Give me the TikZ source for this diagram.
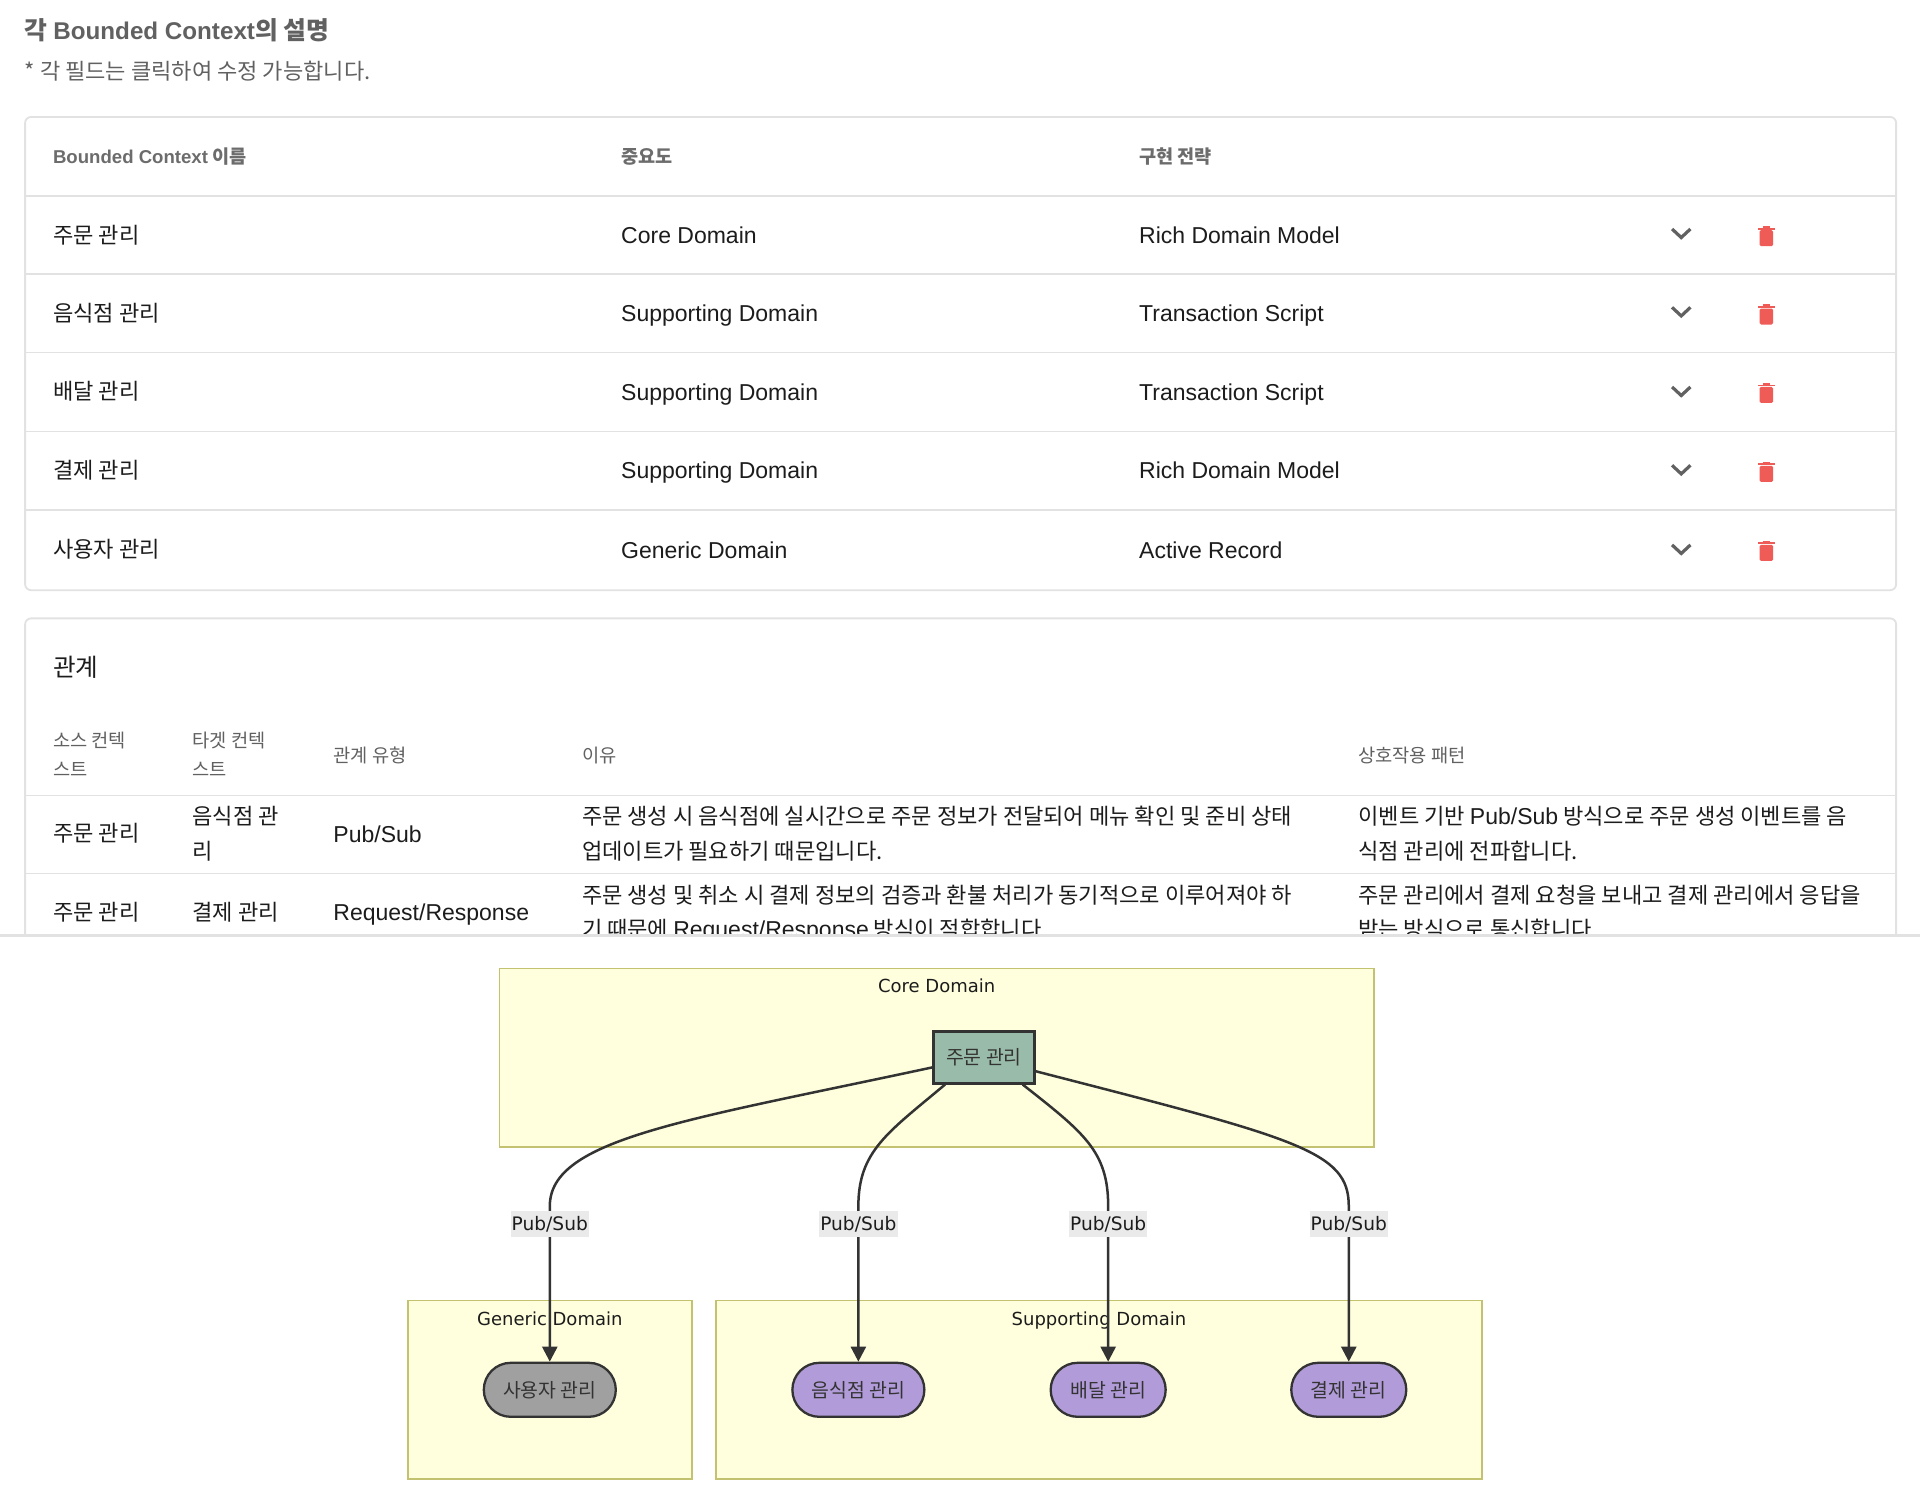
\documentclass[tikz,border=0pt]{standalone}
\usepackage{fontspec}
\setmainfont{Liberation Sans}
\newfontfamily\kr{Noto Sans CJK KR}
\newfontfamily\dia{DejaVu Sans}
\usetikzlibrary{arrows.meta,shapes.misc}
\definecolor{cardline}{HTML}{E2E2E2}
\definecolor{headgray}{HTML}{616161}
\definecolor{softgray}{HTML}{6C6C6C}
\definecolor{bodyink}{HTML}{1C1C1C}
\definecolor{trashred}{HTML}{EF5B57}
\definecolor{domfill}{HTML}{FFFFDE}
\definecolor{domline}{HTML}{C2C270}
\definecolor{nodeink}{HTML}{333333}
\definecolor{coregreen}{HTML}{99BBA9}
\definecolor{subpurple}{HTML}{B19CD9}
\definecolor{genegray}{HTML}{A0A0A0}
\definecolor{labelgray}{HTML}{EAEAEA}
\tikzset{
  cell/.style={anchor=west, inner sep=0pt, text height=8.3pt, text depth=0pt, text=bodyink, font=\fontsize{11.5}{13}\selectfont},
  krcell/.style={anchor=west, inner sep=0pt, text height=10.5pt, text depth=1.3pt, text=bodyink, font=\kr\fontsize{11.05}{13}\selectfont},
  headcell/.style={anchor=west, inner sep=0pt, text height=9.4pt, text depth=1.1pt, text=headgray, font=\kr\fontsize{9.35}{11}\selectfont},
  headbold/.style={headcell, text=softgray, font=\kr\bfseries\fontsize{9.3}{11}\selectfont},
  domainbox/.style={draw=domline, fill=domfill, line width=.9pt},
  domaintitle/.style={inner sep=0pt, text height=6.6pt, text depth=0pt, text=bodyink, font=\dia\fontsize{9}{11}\selectfont},
  corenode/.style={draw=nodeink, fill=coregreen, line width=1.2pt, minimum width=50.5pt, minimum height=26pt, inner sep=0pt, text=nodeink, font=\kr\fontsize{9.7}{11}\selectfont},
  pillnode/.style={rounded rectangle, draw=nodeink, line width=1.15pt, minimum height=27pt, inner sep=0pt, text=nodeink, font=\kr\fontsize{9.7}{11}\selectfont},
  subnode/.style={pillnode, fill=subpurple},
  genericnode/.style={pillnode, fill=genegray},
  flowline/.style={draw=nodeink, line width=1.25pt, -{Triangle[length=7.5pt,width=7.5pt]}},
  flowlabel/.style={fill=labelgray, inner xsep=.6pt, inner ysep=1.6pt, text height=8.2pt, text depth=1.4pt, text=bodyink, font=\dia\fontsize{9.3}{11}\selectfont},
  rowline/.style={draw=cardline, line width=.8pt}
}
\newcommand{\openicon}[1]{\draw[headgray, line width=1.6pt] (1365.5,#1-4) -- (1373,#1+3) -- (1380.5,#1-4);}
\newcommand{\trashicon}[1]{
\fill[trashred, rounded corners=.7pt] (1437,#1-5) rectangle (1448,#1+8);
\fill[trashred] (1435.5,#1-7) rectangle (1449.5,#1-5.5);
\fill[trashred] (1439.5,#1-8.5) rectangle (1445.5,#1-7);
}
\begin{document}
\begin{tikzpicture}[x=0.61224pt, y=-0.61224pt]
\useasboundingbox (0,0) rectangle (1568,1227.46);
\fill[white] (0,0) rectangle (1568,1227.46);
% first card
\node[anchor=west, inner sep=0pt, text height=10.9pt, text depth=1.5pt, text=headgray, font=\kr\bfseries\fontsize{12.4}{15}\selectfont] (title) at (20,24.5) {각 {\rmfamily\bfseries\fontsize{12.1}{15}\selectfont Bounded Context}의 설명};
\node[anchor=west, inner sep=0pt, text height=9.7pt, text depth=1.3pt, text=headgray, font=\kr\fontsize{11.03}{13}\selectfont] (hint) at (20,58) {* 각 필드는 클릭하여 수정 가능합니다.};
\draw[cardline, line width=.9pt, rounded corners=3pt] (20.5,95.5) rectangle (1548.5,482);
\draw[rowline] (20,160) -- (1549,160);
\draw[rowline] (20,224) -- (1549,224);
\draw[rowline] (20,288) -- (1549,288);
\draw[rowline] (20,352.5) -- (1549,352.5);
\draw[rowline] (20,416.5) -- (1549,416.5);
\node[headbold] (hname) at (43,127) {{\rmfamily\bfseries\fontsize{9.3}{11}\selectfont Bounded Context} 이름};
\node[headbold] (himp) at (507,127) {중요도};
\node[headbold] (hstr) at (930,127) {구현 전략};
\node[krcell] (name1) at (43,191) {주문 관리};
\node[cell] (imp1) at (507,192) {Core Domain};
\node[cell] (str1) at (930,192) {Rich Domain Model};
\node[krcell] (name2) at (43,255) {음식점 관리};
\node[cell] (imp2) at (507,256) {Supporting Domain};
\node[cell] (str2) at (930,256) {Transaction Script};
\node[krcell] (name3) at (43,319) {배달 관리};
\node[cell] (imp3) at (507,320) {Supporting Domain};
\node[cell] (str3) at (930,320) {Transaction Script};
\node[krcell] (name4) at (43,383.5) {결제 관리};
\node[cell] (imp4) at (507,384) {Supporting Domain};
\node[cell] (str4) at (930,384) {Rich Domain Model};
\node[krcell] (name5) at (43,448) {사용자 관리};
\node[cell] (imp5) at (507,449) {Generic Domain};
\node[cell] (str5) at (930,449) {Active Record};
\openicon{191}
\openicon{255}
\openicon{320}
\openicon{384}
\openicon{449}
\trashicon{193}
\trashicon{257}
\trashicon{321}
\trashicon{385.5}
\trashicon{450}
% second card, cut off by the split
\begin{scope}
\clip (0,0) rectangle (1568,762.5);
\draw[cardline, line width=.9pt, rounded corners=3pt] (20.5,780) -- (20.5,505) -- (1548.5,505) -- (1548.5,780);
\draw[rowline] (20,649.5) -- (1549,649.5);
\draw[rowline] (20,713.5) -- (1549,713.5);
\node[anchor=west, inner sep=0pt, text=bodyink, font=\kr\fontsize{12.3}{15}\selectfont] (rel) at (43,545) {관계};
\node[headcell] (hsrc1) at (43,604) {소스 컨텍};
\node[headcell] (hsrc2) at (43,627.5) {스트};
\node[headcell] (htgt1) at (157,604) {타겟 컨텍};
\node[headcell] (htgt2) at (157,627.5) {스트};
\node[headcell] (htype) at (272,616) {관계 유형};
\node[headcell] (hwhy) at (475,616) {이유};
\node[headcell] (hpat) at (1109,616) {상호작용 패턴};
\node[krcell] (src1) at (43,680) {주문 관리};
\node[krcell] (tgt1a) at (157,666) {음식점 관};
\node[krcell] (tgt1b) at (157,694) {리};
\node[cell] (type1) at (272,681) {Pub/Sub};
\node[krcell] (why1a) at (475,666) {주문 생성 시 음식점에 실시간으로 주문 정보가 전달되어 메뉴 확인 및 준비 상태};
\node[krcell] (why1b) at (475,694) {업데이트가 필요하기 때문입니다.};
\node[krcell] (pat1a) at (1109,666) {이벤트 기반 {\rmfamily\fontsize{11.5}{13}\selectfont Pub/Sub} 방식으로 주문 생성 이벤트를 음};
\node[krcell] (pat1b) at (1109,694) {식점 관리에 전파합니다.};
\node[krcell] (src2) at (43,744.5) {주문 관리};
\node[krcell] (tgt2) at (157,744.5) {결제 관리};
\node[cell] (type2) at (272,745) {Request/Response};
\node[krcell] (why2a) at (475,730) {주문 생성 및 취소 시 결제 정보의 검증과 환불 처리가 동기적으로 이루어져야 하};
\node[krcell] (why2b) at (475,758) {기 때문에 {\rmfamily\fontsize{11.5}{13}\selectfont Request/Response} 방식이 적합합니다.};
\node[krcell] (pat2a) at (1109,730) {주문 관리에서 결제 요청을 보내고 결제 관리에서 응답을};
\node[krcell] (pat2b) at (1109,758) {받는 방식으로 통신합니다.};
\end{scope}
\fill[cardline] (0,762.5) rectangle (1568,765);
% domains
\draw[domainbox] (408,791) rectangle (1122,936.5);
\draw[domainbox] (333,1062) rectangle (565,1208);
\draw[domainbox] (585,1062) rectangle (1210,1208);
\node[domaintitle] (coret) at (765,805) {Core Domain};
\node[domaintitle] (genet) at (449,1077) {Generic Domain};
\node[domaintitle] (supt) at (897.5,1077) {Supporting Domain};
\node[corenode] (order) at (803.5,863.5) {주문 관리};
\node[genericnode, minimum width=66pt] (user) at (449,1135) {사용자 관리};
\node[subnode, minimum width=66pt] (shop) at (701,1135) {음식점 관리};
\node[subnode, minimum width=57.5pt] (deliv) at (905,1135) {배달 관리};
\node[subnode, minimum width=57.5pt] (pay) at (1101.5,1135) {결제 관리};
\coordinate (benduser) at (449,985);
\coordinate (bendshop) at (701,985);
\coordinate (benddeliv) at (905,985);
\coordinate (bendpay) at (1101.5,985);
\draw[flowline] (order.191.6) .. controls (560,915) and (449,930) .. (benduser) -- (user.north);
\draw[flowline] (order.215.2) .. controls (725,925) and (701,940) .. (bendshop) -- (shop.north);
\draw[flowline] (order.-35.2) .. controls (885,925) and (905,940) .. (benddeliv) -- (deliv.north);
\draw[flowline] (order.-15.5) .. controls (1060,930) and (1101.5,940) .. (bendpay) -- (pay.north);
\node[flowlabel] (labuser) at (449,999.5) {Pub/Sub};
\node[flowlabel] (labshop) at (701,999.5) {Pub/Sub};
\node[flowlabel] (labdeliv) at (905,999.5) {Pub/Sub};
\node[flowlabel] (labpay) at (1101.5,999.5) {Pub/Sub};
\end{tikzpicture}
\end{document}
